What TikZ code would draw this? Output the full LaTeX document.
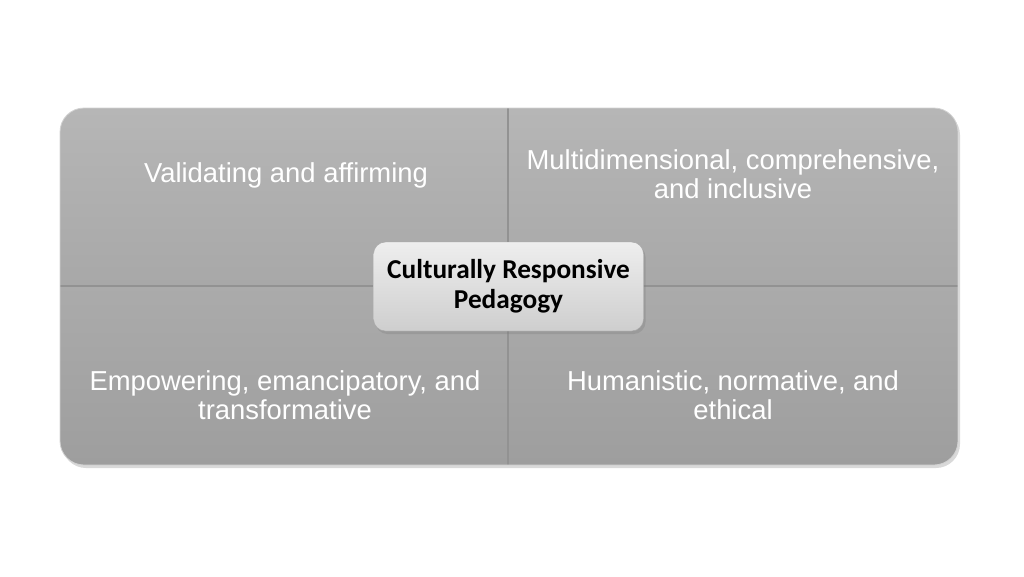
\documentclass[tikz,border=0pt]{standalone}
\usepackage{fontspec}
\setmainfont{Liberation Sans}
\newfontfamily\hubfont{Carlito}
\usetikzlibrary{positioning}
\usetikzlibrary{shadows}
\definecolor{quad-top}{RGB}{182,182,182}
\definecolor{quad-mid}{RGB}{168,168,168}
\definecolor{quad-low}{RGB}{158,158,158}
\definecolor{quad-line}{RGB}{146,146,146}
\definecolor{hub-top}{RGB}{238,238,238}
\definecolor{hub-bottom}{RGB}{206,206,206}

\tikzset{
  quadtext/.style={text=white, align=center, font=\fontsize{27.4}{28.5}\selectfont},
  hub/.style={draw=gray!70, rounded corners=12pt, minimum width=270pt, minimum height=89pt,
    top color=hub-top, bottom color=hub-bottom, align=center,
    font=\hubfont\bfseries\fontsize{27.3}{30}\selectfont,
    drop shadow={opacity=0.35, shadow xshift=2pt, shadow yshift=-3pt}},
}

\begin{document}
\begin{tikzpicture}[x=1pt,y=-1pt]
\useasboundingbox (0,0) rectangle (1024,576);
\fill[white, drop shadow={opacity=0.3, shadow xshift=2pt, shadow yshift=-3pt}]
  [rounded corners=24pt] (60,108) rectangle (958,465);
\begin{scope}
\clip[rounded corners=24pt] (60,108) rectangle (958,465);
\shade[top color=quad-top, bottom color=quad-mid] (60,108) rectangle (508,286);
\shade[top color=quad-top, bottom color=quad-mid] (508,108) rectangle (958,286);
\shade[top color=quad-mid!80!quad-top, bottom color=quad-low] (60,286) rectangle (508,465);
\shade[top color=quad-mid!80!quad-top, bottom color=quad-low] (508,286) rectangle (958,465);
\draw[quad-line, line width=1.2pt] (508,108) -- (508,465);
\draw[quad-line, line width=1.2pt] (60,286) -- (958,286);
\end{scope}
\draw[gray!35, line width=0.8pt, rounded corners=24pt] (60,108) rectangle (958,465);

\node[quadtext] (valid) at (286,175) {Validating and affirming};
\node[quadtext] (multi) at (733,174) {Multidimensional, comprehensive,\\and inclusive};
\node[quadtext] (empow) at (285,395) {Empowering, emancipatory, and\\transformative};
\node[quadtext] (human) at (733,395) {Humanistic, normative, and\\ethical};

\node[hub] (crp) at (508.5,286.5) {Culturally Responsive\\Pedagogy};
\end{tikzpicture}
\end{document}
